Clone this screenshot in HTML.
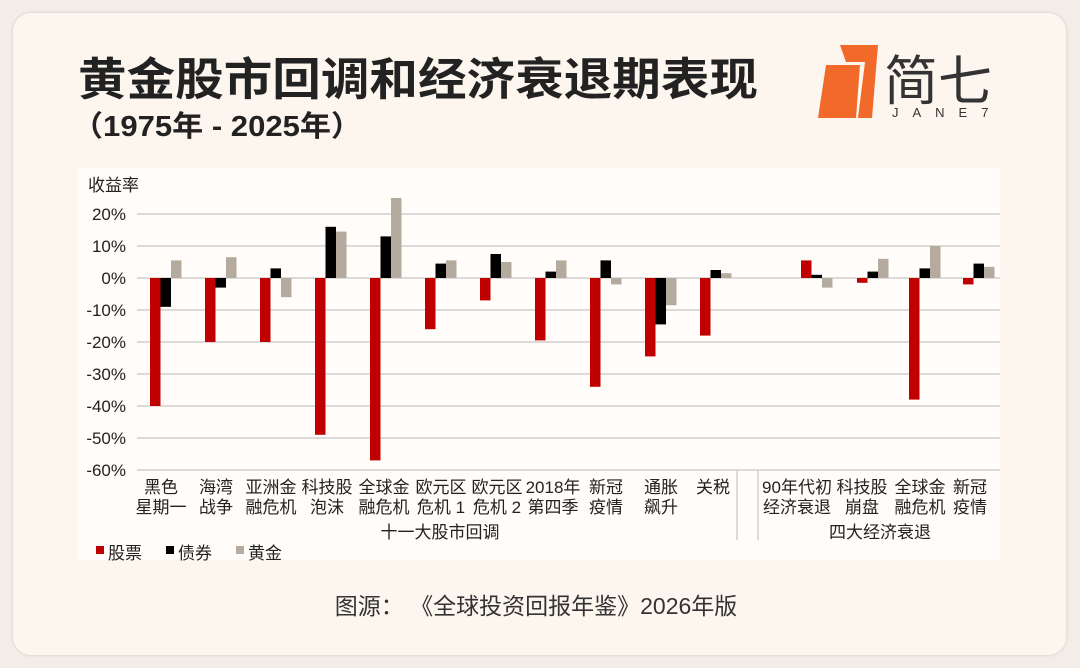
<!DOCTYPE html>
<html><head><meta charset="utf-8"><style>
body{margin:0;width:1080px;height:668px;background:#f3ece7;font-family:"Liberation Sans","Noto Sans CJK SC",sans-serif;overflow:hidden}
.card{position:absolute;left:13px;top:13px;width:1053px;height:642px;background:#fdf6ef;border-radius:18px;box-shadow:0 0 3px rgba(0,0,0,.15)}
</style></head><body>
<div class="card"></div>
<svg width="1080" height="668" style="position:absolute;left:0;top:0" font-family="'Liberation Sans','Noto Sans CJK SC',sans-serif">
<text x="78" y="95" font-size="45" font-weight="bold" fill="#222" textLength="680" lengthAdjust="spacingAndGlyphs">黄金股市回调和经济衰退期表现</text>
<text x="72" y="136" font-size="29" font-weight="bold" fill="#222" textLength="290" lengthAdjust="spacingAndGlyphs">（1975年 - 2025年）</text>
<polygon points="840,45 878,45 872,118 858,118 865,62 846,62" fill="#f26a2a"/>
<polygon points="826,65 860,65 856,118 818,118" fill="#f26a2a"/>
<text x="884" y="100" font-size="54" fill="#333">简七</text>
<text x="892" y="117" font-size="13" fill="#333" letter-spacing="14">JANE7</text>
<rect x="78" y="168" width="922" height="392" fill="#fffcf9"/>
<g stroke="#d0d0d0" stroke-width="1.5">
<line x1="137" x2="1000" y1="214" y2="214"/><line x1="137" x2="1000" y1="246" y2="246"/>
<line x1="137" x2="1000" y1="310" y2="310"/><line x1="137" x2="1000" y1="342" y2="342"/>
<line x1="137" x2="1000" y1="374" y2="374"/><line x1="137" x2="1000" y1="406" y2="406"/>
<line x1="137" x2="1000" y1="438" y2="438"/><line x1="137" x2="1000" y1="470" y2="470"/>
<line x1="137" x2="1000" y1="278" y2="278"/>
<line x1="737" x2="737" y1="470" y2="540"/><line x1="758" x2="758" y1="470" y2="540"/>
</g>
<g font-size="17" fill="#222" text-anchor="end">
<text x="126" y="220">20%</text><text x="126" y="252">10%</text><text x="126" y="284">0%</text>
<text x="126" y="316">-10%</text><text x="126" y="348">-20%</text><text x="126" y="380">-30%</text>
<text x="126" y="412">-40%</text><text x="126" y="444">-50%</text><text x="126" y="476">-60%</text>
</g>
<text x="88" y="191" font-size="17" fill="#222">收益率</text>
<g id="bars"></g>
<g font-size="17" fill="#222" text-anchor="middle">
<text x="161" y="493">黑色</text><text x="161" y="513">星期一</text>
<text x="216" y="493">海湾</text><text x="216" y="513">战争</text>
<text x="271" y="493">亚洲金</text><text x="271" y="513">融危机</text>
<text x="327" y="493">科技股</text><text x="327" y="513">泡沫</text>
<text x="384" y="493">全球金</text><text x="384" y="513">融危机</text>
<text x="441" y="493">欧元区</text><text x="441" y="513">危机 1</text>
<text x="497" y="493">欧元区</text><text x="497" y="513">危机 2</text>
<text x="553" y="493">2018年</text><text x="553" y="513">第四季</text>
<text x="606" y="493">新冠</text><text x="606" y="513">疫情</text>
<text x="661" y="493">通胀</text><text x="661" y="513">飙升</text>
<text x="713" y="493">关税</text>
<text x="797" y="493">90年代初</text><text x="797" y="513">经济衰退</text>
<text x="862" y="493">科技股</text><text x="862" y="513">崩盘</text>
<text x="920" y="493">全球金</text><text x="920" y="513">融危机</text>
<text x="970" y="493">新冠</text><text x="970" y="513">疫情</text>
<text x="440" y="538">十一大股市回调</text>
<text x="880" y="538">四大经济衰退</text>
</g>
<rect x="96" y="546" width="8" height="8" fill="#c00000"/><text x="108" y="559" font-size="17" fill="#222">股票</text>
<rect x="166" y="546" width="8" height="8" fill="#000"/><text x="178" y="559" font-size="17" fill="#222">债券</text>
<rect x="236" y="546" width="8" height="8" fill="#b4ab9e"/><text x="248" y="559" font-size="17" fill="#222">黄金</text>
<text x="536" y="614" font-size="23" fill="#333" text-anchor="middle">图源：  《全球投资回报年鉴》2026年版</text>
</svg>
<script>
var d=[[-40,-9,5.5],[-20,-3,6.5],[-20,3,-6],[-49,16,14.5],[-57,13,25],[-16,4.5,5.5],[-7,7.5,5],[-19.5,2,5.5],[-34,5.5,-2],[-24.5,-14.5,-8.5],[-18,2.5,1.5],[5.5,1,-3],[-1.5,2,6],[-38,3,10],[-2,4.5,3.5]];
var xs=[150,205,260,315,370,425,480,535,590,645,700,801,857,909,963];
var c=["#c00000","#000","#b4ab9e"],s="";
d.forEach(function(g,i){g.forEach(function(v,k){var h=Math.abs(v)*3.2,y=v>0?278-h:278;s+='<rect x="'+(xs[i]+k*10.5)+'" y="'+y+'" width="10.5" height="'+h+'" fill="'+c[k]+'"/>';});});
document.getElementById("bars").innerHTML=s;
</script>
</body></html>
